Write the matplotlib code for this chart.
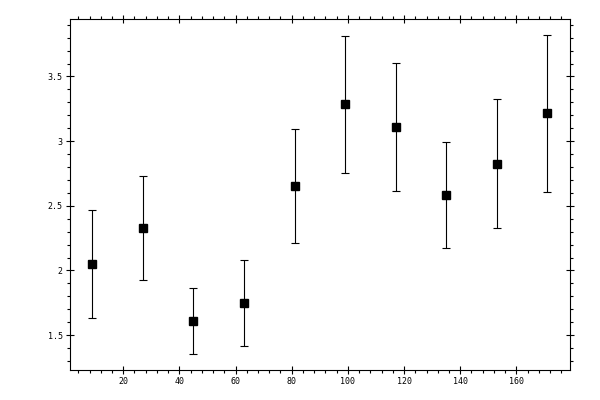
import matplotlib
matplotlib.use("Agg")
import matplotlib.pyplot as plt
from matplotlib.ticker import MultipleLocator

# values
x = [9, 27, 45, 63, 81, 99, 117, 135, 153, 171]
y = [2.05, 2.33, 1.61, 1.75, 2.655, 3.285, 3.11, 2.585, 2.825, 3.215]
yerr = [0.415, 0.404, 0.256, 0.33, 0.442, 0.531, 0.492, 0.41, 0.5, 0.606]
xticks = [20, 40, 60, 80, 100, 120, 140, 160]
yticks = [1.5, 2, 2.5, 3, 3.5]
ytick_labels = ["1.5", "2", "2.5", "3", "3.5"]


def main():
    fig = plt.figure(figsize=(6, 4), dpi=100)
    ax = fig.add_axes([0.116, 0.075, 0.834, 0.8775])

    ax.errorbar(x, y, yerr=yerr, fmt="s", color="black", ms=5.5,
                elinewidth=0.8, capsize=2.6, capthick=0.8)

    ax.set_xticks(xticks)
    ax.set_yticks(yticks)
    ax.set_yticklabels(ytick_labels)
    ax.xaxis.set_minor_locator(MultipleLocator(4))
    ax.yaxis.set_minor_locator(MultipleLocator(0.1))

    ax.tick_params(which="major", direction="inout", length=5.8, width=0.8,
                   top=True, right=True, labelsize=6, pad=2)
    ax.tick_params(which="minor", direction="out", length=2.5, width=0.8,
                   top=True, right=True)
    for lab in ax.get_xticklabels() + ax.get_yticklabels():
        lab.set_family("DejaVu Sans Mono")
    for s in ax.spines.values():
        s.set_linewidth(0.8)

    fig.savefig("out.png", dpi=100)


if __name__ == '__main__':
    main()
